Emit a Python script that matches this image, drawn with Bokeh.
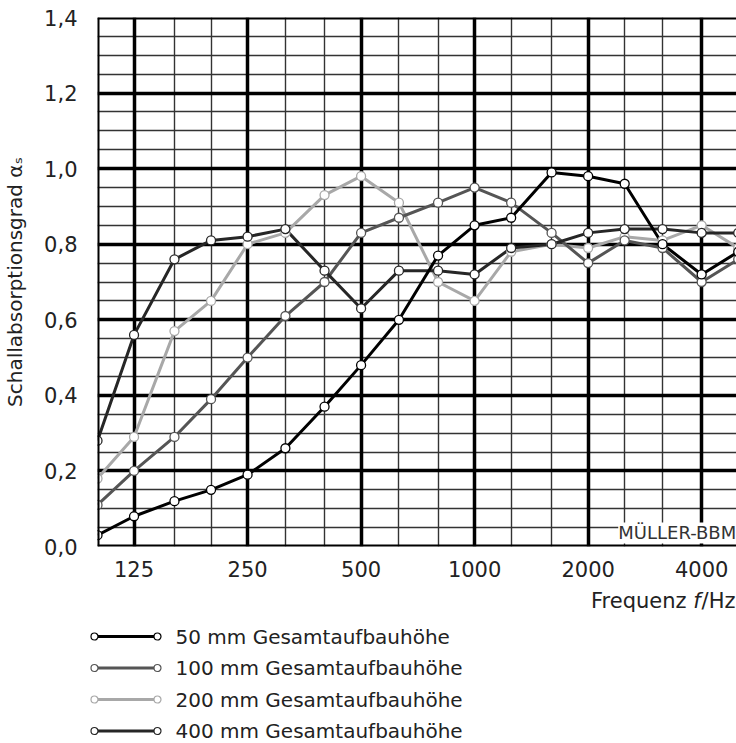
from bokeh.plotting import figure
from bokeh.models import FixedTicker, Grid, Span, Label, CustomJSTickFormatter, Range1d
from bokeh.layouts import column, row
from bokeh.embed import file_html
from bokeh.resources import INLINE
from bokeh.core.properties import value

# ---------------- data ----------------
freqs = [100, 125, 160, 200, 250, 315, 400, 500, 630, 800, 1000, 1250, 1600, 2000, 2500, 3150, 4000, 5000]

alpha_50 = [0.03, 0.08, 0.12, 0.15, 0.19, 0.26, 0.37, 0.48, 0.60, 0.77, 0.85, 0.87, 0.99, 0.98, 0.96, 0.80, 0.72, 0.78]
alpha_100 = [0.11, 0.20, 0.29, 0.39, 0.50, 0.61, 0.70, 0.83, 0.87, 0.91, 0.95, 0.91, 0.83, 0.75, 0.81, 0.79, 0.70, 0.76]
alpha_200 = [0.18, 0.29, 0.57, 0.65, 0.80, 0.83, 0.93, 0.98, 0.91, 0.70, 0.65, 0.78, 0.80, 0.79, 0.82, 0.81, 0.85, 0.79]
alpha_400 = [0.28, 0.56, 0.76, 0.81, 0.82, 0.84, 0.73, 0.63, 0.73, 0.73, 0.72, 0.79, 0.80, 0.83, 0.84, 0.84, 0.83, 0.83]

series_labels = ["50 mm Gesamtaufbauhöhe", "100 mm Gesamtaufbauhöhe",
                 "200 mm Gesamtaufbauhöhe", "400 mm Gesamtaufbauhöhe"]
series_values = [alpha_50, alpha_100, alpha_200, alpha_400]
series_colors = ["#000000", "#555555", "#a8a8a8", "#262626"]

octave_ticks = [125, 250, 500, 1000, 2000, 4000]
third_octave_lines = [160, 200, 315, 400, 630, 800, 1250, 1600, 2500, 3150]
y_ticks = [0.0, 0.2, 0.4, 0.6, 0.8, 1.0, 1.2, 1.4]
y_major_lines = [0.2, 0.4, 0.6, 0.8, 1.0, 1.2]
y_minor_lines = [0.05, 0.10, 0.15, 0.25, 0.30, 0.35, 0.45, 0.50, 0.55, 0.65, 0.70, 0.75,
                 0.85, 0.90, 0.95, 1.05, 1.10, 1.15, 1.25, 1.30, 1.35]

FONT = "DejaVu Sans"
TXT = "#222222"
LEFT = 96

# ---------------- main chart ----------------
p = figure(width=736, height=580, x_axis_type="log",
           x_range=Range1d(100, 4948), y_range=Range1d(0, 1.4),
           output_backend="svg", toolbar_location=None,
           min_border_left=LEFT, min_border_right=0, min_border_top=17, min_border_bottom=34)
p.outline_line_color = None
p.xgrid.visible = False
p.ygrid.visible = False

# grids: thin first, thick on top
p.add_layout(Grid(dimension=0, ticker=FixedTicker(ticks=third_octave_lines),
                  grid_line_color="#333333", grid_line_width=1.4))
p.add_layout(Grid(dimension=1, ticker=FixedTicker(ticks=y_minor_lines),
                  grid_line_color="#333333", grid_line_width=1.4))
p.add_layout(Grid(dimension=0, ticker=FixedTicker(ticks=octave_ticks),
                  grid_line_color="#000000", grid_line_width=3.5))
p.add_layout(Grid(dimension=1, ticker=FixedTicker(ticks=y_major_lines),
                  grid_line_color="#000000", grid_line_width=3.5))

# axes
p.xaxis.ticker = FixedTicker(ticks=octave_ticks, minor_ticks=[])
p.xaxis.formatter = CustomJSTickFormatter(code="return tick.toFixed(0);")
p.yaxis.ticker = FixedTicker(ticks=y_ticks, minor_ticks=[])
p.yaxis.formatter = CustomJSTickFormatter(code="return tick.toFixed(1).replace('.', ',');")
for ax in (p.xaxis, p.yaxis):
    ax.axis_line_color = None
    ax.major_tick_line_color = None
    ax.minor_tick_line_color = None
    ax.major_label_text_font = FONT
    ax.major_label_text_font_size = "21px"
    ax.major_label_text_color = TXT
p.xaxis.major_label_standoff = 8
p.yaxis.major_label_standoff = 14
p.yaxis.axis_label = "Schallabsorptionsgrad αₛ"
p.yaxis.axis_label_text_font = FONT
p.yaxis.axis_label_text_font_size = "20px"
p.yaxis.axis_label_text_font_style = "normal"
p.yaxis.axis_label_text_color = TXT
p.yaxis.axis_label_standoff = 14

# series
draw_order = [2, 1, 3, 0]
for i in draw_order:
    p.line(freqs, series_values[i], line_color=series_colors[i], line_width=3)
for i in draw_order:
    p.scatter(freqs, series_values[i], marker="circle", size=9,
              fill_color="white", line_color=series_colors[i], line_width=1.3)

# frame border (top, left, bottom)
for loc, dim in ((0.0, "width"), (1.4, "width"), (100, "height")):
    p.add_layout(Span(location=loc, dimension=dim, line_color="black", line_width=4))

p.add_layout(Label(x=4940, y=0.008, text="MÜLLER-BBM", text_align="right",
                   text_baseline="bottom", text_font=FONT, text_font_size="18px",
                   text_color="#333333", background_fill_color="white"))

# ---------------- legend / x-label panel (page-pixel coordinates) ----------------
H2 = 163
q = figure(width=736, height=H2, x_range=Range1d(0, 736), y_range=Range1d(H2, 0),
           output_backend="svg", toolbar_location=None,
           x_axis_location=None, y_axis_location=None,
           min_border_left=0, min_border_right=0, min_border_top=0, min_border_bottom=0)
q.outline_line_color = None
q.xgrid.visible = False
q.ygrid.visible = False

# x axis title "Frequenz f/Hz" (f italic), right aligned
fs = 21
w_hz = (690 + 1540 + 1075) / 2048 * fs
w_f = 721 / 2048 * fs
w_sp = 651 / 2048 * fs
xr = 735
q.text(x=[xr], y=[20], text=["/Hz"], text_align="right", text_baseline="alphabetic",
       text_font=value(FONT), text_font_size=f"{fs}px", text_color=TXT)
q.text(x=[xr - w_hz - 1], y=[20], text=["f"], text_align="right", text_baseline="alphabetic",
       text_font=value(FONT), text_font_size=f"{fs}px", text_font_style="italic", text_color=TXT)
q.text(x=[xr - w_hz - w_f - w_sp - 1], y=[20], text=["Frequenz"], text_align="right",
       text_baseline="alphabetic", text_font=value(FONT), text_font_size=f"{fs}px", text_color=TXT)

row0, row_step = 56, 31.5
for k in range(4):
    ry = row0 + k * row_step
    q.line([94, 157], [ry, ry], line_color=series_colors[k], line_width=3)
    q.scatter([94, 157], [ry, ry], marker="circle", size=7, fill_color="white",
              line_color=series_colors[k], line_width=1.2)
    q.text(x=[175], y=[ry], text=[series_labels[k]], text_baseline="middle",
           text_font=value(FONT), text_font_size="20px", text_color=TXT)

# q wrapped in its own row so its frame is not aligned with the chart's frame
layout = column(p, row(q, spacing=0), spacing=0)
open("out.html", "w").write(file_html(layout, INLINE))
